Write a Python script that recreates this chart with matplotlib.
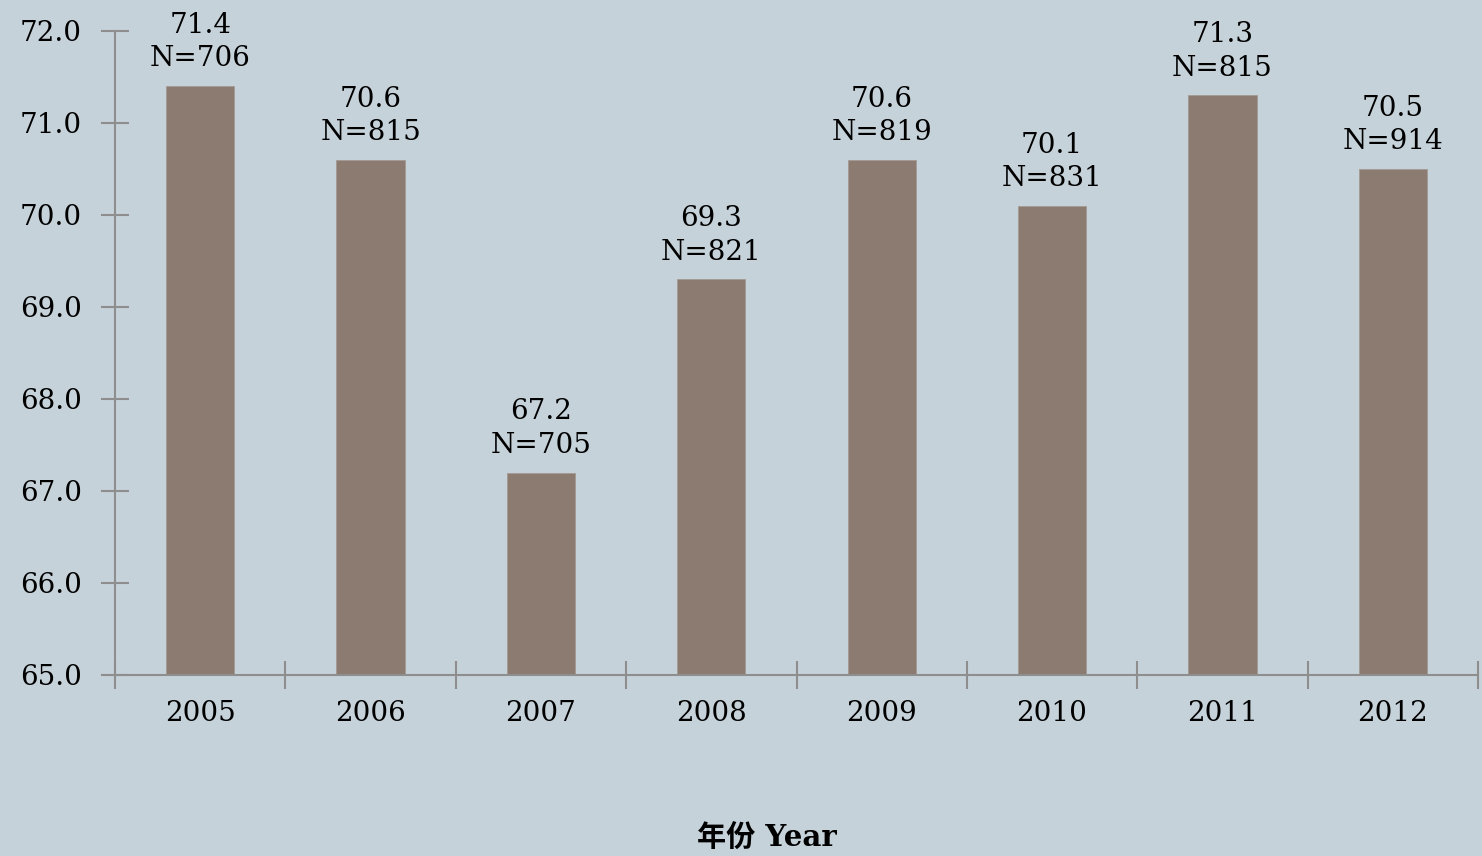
import matplotlib
matplotlib.use("Agg")
import matplotlib.pyplot as plt

years = ["2005", "2006", "2007", "2008", "2009", "2010", "2011", "2012"]
values = [71.4, 70.6, 67.2, 69.3, 70.6, 70.1, 71.3, 70.5]
counts = [706, 815, 705, 821, 819, 831, 815, 914]
yticks = [65.0, 66.0, 67.0, 68.0, 69.0, 70.0, 71.0, 72.0]

BG = "#c6d2d9"
BAR = "#8b7b70"
AXC = "#8e8e8e"
SERIF = ["DejaVu Serif", "Noto Sans CJK SC"]

plt.rcParams["font.family"] = SERIF

fig = plt.figure(figsize=(14.82, 8.56), dpi=100, facecolor=BG)
ax = fig.add_axes([115 / 1482, 181 / 856, (1478 - 115) / 1482, (675 - 31) / 856])
ax.set_facecolor(BG)

x = list(range(len(years)))
ax.bar(x, values, width=0.4, color=BAR, edgecolor="#a39a92", linewidth=0.6,
       bottom=0, zorder=2)
ax.set_ylim(65, 72)
ax.set_xlim(-0.5, len(years) - 0.5)

# value + sample size above each bar
for xi, v, n in zip(x, values, counts):
    ax.annotate(f"{v:.1f}\nN={n}", (xi, v), xytext=(0, 10),
                textcoords="offset points", ha="center", va="bottom",
                fontsize=20, linespacing=1.3, color="black",
                annotation_clip=False)

for s in ["top", "right"]:
    ax.spines[s].set_visible(False)
for s in ["left", "bottom"]:
    ax.spines[s].set_color(AXC)
    ax.spines[s].set_linewidth(1.5)

ax.set_yticks(yticks)
ax.set_yticklabels([f"{t:.1f}" for t in yticks], fontsize=20)
ax.tick_params(axis="y", direction="inout", length=20, width=1.5, color=AXC, pad=14)

# category boundaries as major ticks, labels on minor ticks
ax.set_xticks([i - 0.5 for i in range(len(years) + 1)])
ax.set_xticklabels([])
ax.set_xticks(x, minor=True)
ax.set_xticklabels(years, minor=True, fontsize=20)
ax.tick_params(axis="x", which="major", direction="inout", length=20, width=1.5, color=AXC)
ax.tick_params(axis="x", which="minor", length=0, pad=18)

fig.text(767 / 1482, 1 - 838 / 856, "年份 Year", ha="center", va="center",
         fontsize=21, fontweight="bold", family=SERIF)

fig.savefig("out.png", dpi=100, facecolor=BG)
